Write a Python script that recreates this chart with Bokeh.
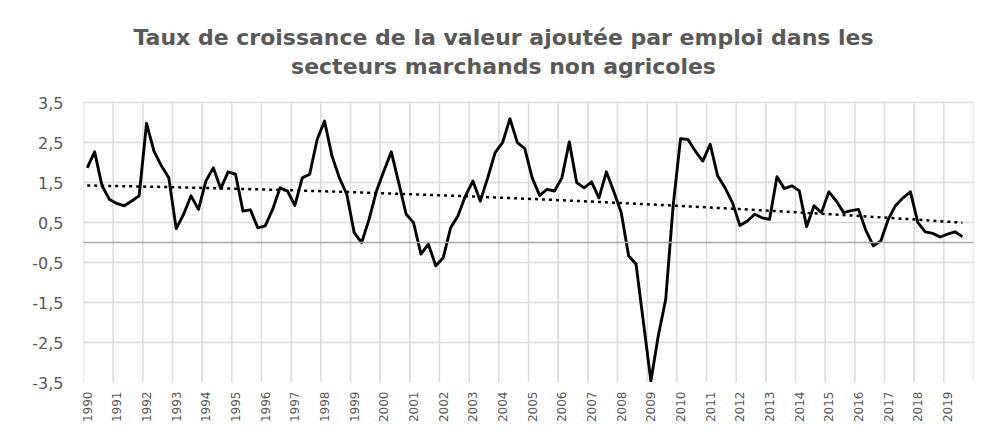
import numpy as np
from bokeh.plotting import figure
from bokeh.models import FixedTicker, Span, Label, Range1d, ColumnDataSource
from bokeh.embed import file_html
from bokeh.resources import INLINE

# ---- data ----
years = [str(y) for y in range(1990, 2020)]
n_categories = 120  # quarters 1990T1 .. 2019T4
growth = [
    1.87, 2.27, 1.42, 1.08,
    0.98, 0.92, 1.04, 1.17,
    2.98, 2.29, 1.92, 1.62,
    0.35, 0.71, 1.17, 0.83,
    1.54, 1.87, 1.35, 1.77,
    1.71, 0.79, 0.82, 0.37,
    0.42, 0.83, 1.37, 1.29,
    0.93, 1.62, 1.71, 2.58,
    3.04, 2.17, 1.62, 1.21,
    0.25, 0.00, 0.58, 1.29,
    1.79, 2.27, 1.50, 0.71,
    0.50, -0.29, -0.04, -0.58,
    -0.38, 0.37, 0.67, 1.17,
    1.54, 1.04, 1.62, 2.25,
    2.50, 3.10, 2.50, 2.35,
    1.62, 1.18, 1.33, 1.29,
    1.62, 2.52, 1.50, 1.37,
    1.52, 1.12, 1.77, 1.28,
    0.75, -0.33, -0.54, -2.00,
    -3.46, -2.33, -1.42, 0.92,
    2.60, 2.58, 2.29, 2.04,
    2.46, 1.67, 1.37, 1.00,
    0.43, 0.54, 0.71, 0.62,
    0.58, 1.65, 1.35, 1.42,
    1.30, 0.40, 0.92, 0.75,
    1.27, 1.04, 0.75, 0.80,
    0.83, 0.30, -0.08, 0.04,
    0.58, 0.93, 1.12, 1.27,
    0.50, 0.27, 0.23, 0.14,
    0.21, 0.27, 0.15,
]
y_ticks = [-3.5, -2.5, -1.5, -0.5, 0.5, 1.5, 2.5, 3.5]
y_tick_labels = ["-3,5", "-2,5", "-1,5", "-0,5", "0,5", "1,5", "2,5", "3,5"]
title_line1 = "Taux de croissance de la valeur ajoutée par emploi dans les"
title_line2 = "secteurs marchands non agricoles"

# ---- layout constants (pixels) ----
W, H = 979, 425
FRAME_L, FRAME_R = 83, 973
PLOT_TOP, FRAME_B = 103, 385          # y of the 3.5 gridline / of -3.5
Y_MIN, Y_MAX = y_ticks[0], y_ticks[-1]
px_per_unit = (FRAME_B - PLOT_TOP) / (Y_MAX - Y_MIN)
y_top = Y_MAX + PLOT_TOP / px_per_unit  # frame runs up to the top of the canvas (room for the title)

# ---- derived ----
idx = np.arange(len(growth))
xs = idx + 0.5
coef = np.polyfit(idx, np.array(growth), 2)
trend = np.polyval(coef, idx)
src = ColumnDataSource(dict(x=xs, y=growth, t=trend))

GRID = "#d9d9d9"
TXT = "#595959"

p = figure(width=W, height=H,
           x_range=Range1d(0, n_categories), y_range=Range1d(Y_MIN, y_top),
           output_backend="svg", toolbar_location=None,
           min_border_left=FRAME_L, min_border_right=W - FRAME_R,
           min_border_top=0, min_border_bottom=H - FRAME_B)
p.outline_line_color = None
p.background_fill_color = "white"
p.border_fill_color = "white"

# horizontal grid
p.ygrid.ticker = FixedTicker(ticks=y_ticks)
p.ygrid.grid_line_color = GRID
p.ygrid.grid_line_width = 1.5
# vertical grid at year boundaries, limited to the value range
p.xgrid.visible = False
bounds = list(range(0, n_categories + 1, 4))
p.segment(x0=bounds, x1=bounds, y0=[Y_MIN] * len(bounds), y1=[Y_MAX] * len(bounds),
          line_color=GRID, line_width=1.5)

# x axis
year_ticks = [i * 4 + 0.5 for i in range(len(years))]
p.xaxis.ticker = FixedTicker(ticks=year_ticks)
p.xaxis.major_label_overrides = {t: y for t, y in zip(year_ticks, years)}
p.xaxis.major_label_orientation = np.pi / 2
p.xaxis.axis_line_color = None
p.xaxis.major_tick_line_color = None
p.xaxis.minor_tick_line_color = None
p.xaxis.major_tick_out = 0
p.xaxis.major_tick_in = 0
p.xaxis.major_label_standoff = 9
p.xaxis.major_label_text_font = "DejaVu Sans"
p.xaxis.major_label_text_font_size = "12px"
p.xaxis.major_label_text_color = TXT

# y axis
p.yaxis.ticker = FixedTicker(ticks=y_ticks)
p.yaxis.major_label_overrides = {t: s for t, s in zip(y_ticks, y_tick_labels)}
p.yaxis.axis_line_color = None
p.yaxis.major_tick_line_color = None
p.yaxis.minor_tick_line_color = None
p.yaxis.major_tick_out = 0
p.yaxis.major_tick_in = 0
p.yaxis.major_label_standoff = 20
p.yaxis.major_label_text_font = "DejaVu Sans"
p.yaxis.major_label_text_font_size = "16px"
p.yaxis.major_label_text_color = TXT

# zero line
p.add_layout(Span(location=0, dimension="width", line_color="#a6a6a6", line_width=1.5))

# series and trend
p.line("x", "t", source=src, line_color="black", line_width=2.5, line_dash="3 4")
p.line("x", "y", source=src, line_color="black", line_width=2.9, line_join="round")

# title (two centred lines)
title_cx = (503 - FRAME_L) / ((FRAME_R - FRAME_L) / n_categories)
for txt, py in ((title_line1, 37), (title_line2, 67)):
    p.add_layout(Label(x=title_cx, y=Y_MAX + (PLOT_TOP - py) / px_per_unit, text=txt,
                       text_align="center", text_baseline="middle",
                       text_font="DejaVu Sans", text_font_style="bold", text_font_size="22px",
                       text_color=TXT))

open("out.html", "w").write(file_html(p, INLINE))
